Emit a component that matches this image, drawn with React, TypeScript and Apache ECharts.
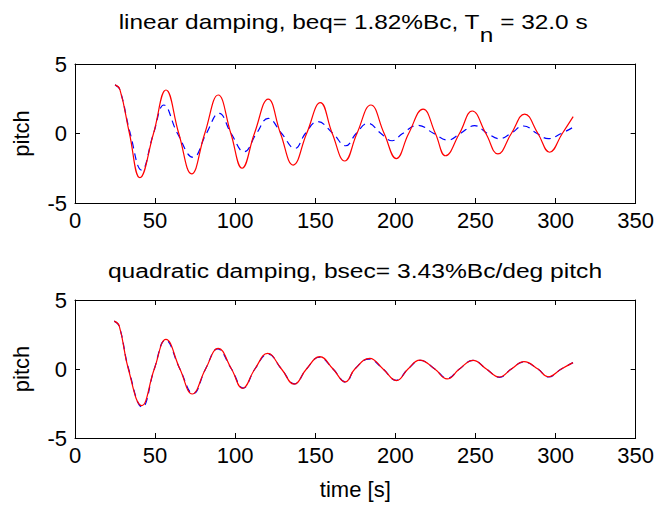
import React, { useEffect, useRef } from "react";
import * as echarts from "echarts";

const FONT = "'Liberation Sans', Arial, Helvetica, sans-serif";

const topTitle = "linear damping, beq= 1.82%Bc, T";
const topTitleSub = "n";
const topTitleEnd = " = 32.0 s";
const bottomTitle = "quadratic damping, bsec= 3.43%Bc/deg pitch";
const xName = "time [s]";
const yName = "pitch";

// top panel: measured (red) and linear-damping fit (blue dashed)
const topRedT = [25, 28, 34, 40.5, 49, 56.8, 64.8, 72.8, 81, 89.4, 97.3, 104.3, 112, 120.6, 128.3, 136.2, 144.6, 153.2, 160.6, 168.4, 176, 184.7, 193, 200.6, 208.3, 217.3, 225, 231.3, 240, 248, 256.5, 264, 272.4, 280.7, 289, 296.3, 304.2, 311];
const topRedY = [3.5, 3.18, 0, -3.18, 0, 3.13, 0, -2.9, 0, 2.77, 0, -2.5, 0, 2.48, 0, -2.27, 0, 2.22, 0, -1.98, 0, 2.05, 0, -1.81, 0, 1.76, 0, -1.6, 0, 1.62, 0, -1.47, 0, 1.4, 0, -1.35, 0, 1.21];
const topBlueT = [25, 28, 34.5, 41.6, 49, 55.5, 64, 73.8, 82, 90, 97.5, 105.6, 113.3, 120.6, 129, 137.3, 143.8, 151.5, 161, 169, 175.5, 183, 191, 198, 204.5, 214, 224, 233, 240.5, 249.5, 257.5, 265, 272, 280, 288.5, 295.5, 303.5, 311];
const topBlueY = [3.5, 3.15, 0, -2.63, 0, 2.05, 0, -1.71, 0, 1.45, 0, -1.31, 0, 1.09, 0, -1.07, 0, 0.85, 0, -0.88, 0, 0.73, 0, -0.52, 0, 0.59, 0, -0.47, 0, 0.56, 0, -0.37, 0, 0.54, 0, -0.37, 0, 0.45];

// bottom panel: measured (red) and quadratic-damping fit (blue dashed)
const botRedT = [24.5, 27.6, 33.3, 41.6, 49.5, 56.8, 65.5, 73.2, 81.5, 89.4, 97.7, 104.6, 112.3, 120.2, 128.9, 136.8, 144.5, 152.8, 161.1, 168.7, 174.7, 184, 192.3, 200.7, 207.9, 215.2, 224.6, 232.3, 240, 248.5, 256.8, 265, 272.4, 280.3, 289, 295.3, 303.6, 310.9];
const botRedY = [3.47, 3.13, 0, -2.65, 0, 2.15, 0, -1.81, 0, 1.5, 0, -1.4, 0, 1.13, 0, -1.1, 0, 0.89, 0, -0.94, 0, 0.77, 0, -0.84, 0, 0.65, 0, -0.72, 0, 0.63, 0, -0.58, 0, 0.53, 0, -0.56, 0, 0.46];
const botBlueT = [24.5, 27.6, 33.5, 42, 49.5, 56.5, 65.5, 73.8, 81.5, 89, 97.7, 105, 112.3, 120.5, 128.9, 137, 144.5, 152.5, 161.1, 169, 174.7, 183.5, 192.3, 200.5, 207.9, 215.5, 224.6, 232.5, 240, 248.5, 256.8, 265, 272.4, 280, 289, 295.5, 303.6, 310.9];
const botBlueY = [3.47, 3.1, 0, -2.75, 0, 2.1, 0, -1.78, 0, 1.45, 0, -1.38, 0, 1.08, 0, -1.08, 0, 0.85, 0, -0.95, 0, 0.72, 0, -0.82, 0, 0.62, 0, -0.68, 0, 0.62, 0, -0.6, 0, 0.5, 0, -0.58, 0, 0.46];

const zip = (t: number[], y: number[]) => t.map((v, i) => [v, y[i]]);

const tickStyle = { color: "#000", fontSize: 22, fontFamily: FONT };
const nameStyle = { color: "#000", fontSize: 22, fontFamily: FONT };

function xAxes(grid: number, withName: boolean) {
  const base = {
    gridIndex: grid,
    type: "value",
    min: 0,
    max: 350,
    interval: 50,
    splitLine: { show: false },
    axisLine: { show: true, onZero: false, lineStyle: { color: "#000", width: 1 } },
    axisTick: { show: true, inside: true, length: 5, lineStyle: { color: "#000" } },
  };
  return [
    {
      ...base,
      position: "bottom",
      axisLabel: { ...tickStyle, margin: 6 },
      ...(withName
        ? {
            name: xName,
            nameLocation: "middle",
            nameGap: 40,
            nameTextStyle: { ...tickStyle },
          }
        : {}),
    },
    { ...base, position: "top", axisLabel: { show: false } },
  ];
}

function yAxes(grid: number) {
  const base = {
    gridIndex: grid,
    type: "value",
    min: -5,
    max: 5,
    interval: 5,
    splitLine: { show: false },
    axisLine: { show: true, onZero: false, lineStyle: { color: "#000", width: 1 } },
    axisTick: { show: true, inside: true, length: 5, lineStyle: { color: "#000" } },
  };
  return [
    {
      ...base,
      position: "left",
      axisLabel: { ...tickStyle, margin: 8 },
      name: yName,
      nameLocation: "middle",
      nameGap: 43,
      nameTextStyle: { ...nameStyle },
    },
    { ...base, position: "right", axisLabel: { show: false } },
  ];
}

function lineSeries(xi: number, data: number[][], color: string, dashed: boolean) {
  return {
    type: "line",
    xAxisIndex: xi,
    yAxisIndex: xi,
    data,
    symbol: "none",
    showSymbol: false,
    smooth: 0.45,
    lineStyle: { color, width: 1.2, type: dashed ? [7, 5] : "solid" },
    emphasis: { disabled: true },
  };
}

export default function App() {
  const ref = useRef<HTMLDivElement>(null);
  useEffect(() => {
    if (!ref.current) return;
    const chart = echarts.init(ref.current, null, { renderer: "svg" });
    chart.setOption({
      animation: false,
      backgroundColor: "#fff",
      grid: [
        { left: 75, top: 64, width: 561, height: 139 },
        { left: 75, top: 300, width: 561, height: 138 },
      ],
      xAxis: [...xAxes(0, false), ...xAxes(1, true)],
      yAxis: [...yAxes(0), ...yAxes(1)],
      series: [
        lineSeries(0, zip(topBlueT, topBlueY), "#0000ff", true),
        lineSeries(0, zip(topRedT, topRedY), "#ff0000", false),
        lineSeries(2, zip(botBlueT, botBlueY), "#0000ff", true),
        lineSeries(2, zip(botRedT, botRedY), "#ff0000", false),
      ],
      graphic: [
        {
          type: "text",
          x: 353,
          y: 22,
          scaleX: 1.22,
          style: {
            text: `{a|${topTitle}}{s|${topTitleSub}}{a|${topTitleEnd}}`,
            align: "center",
            verticalAlign: "middle",
            fill: "#000",
            font: `20px ${FONT}`,
            rich: {
              a: { fontSize: 20, fontFamily: FONT, fill: "#000", lineHeight: 24 },
              s: { fontSize: 20, fontFamily: FONT, fill: "#000", lineHeight: 24, padding: [27, 0, 0, 0] },
            },
          },
        },
        {
          type: "text",
          x: 355,
          y: 271,
          scaleX: 1.23,
          style: {
            text: bottomTitle,
            align: "center",
            verticalAlign: "middle",
            fill: "#000",
            fontSize: 20,
            fontFamily: FONT,
          },
        },
      ],
    });
    return () => chart.dispose();
  }, []);
  return (
    <div
      ref={ref}
      style={{ position: "fixed", left: 0, top: 0, width: 657, height: 506, background: "#fff" }}
    />
  );
}
